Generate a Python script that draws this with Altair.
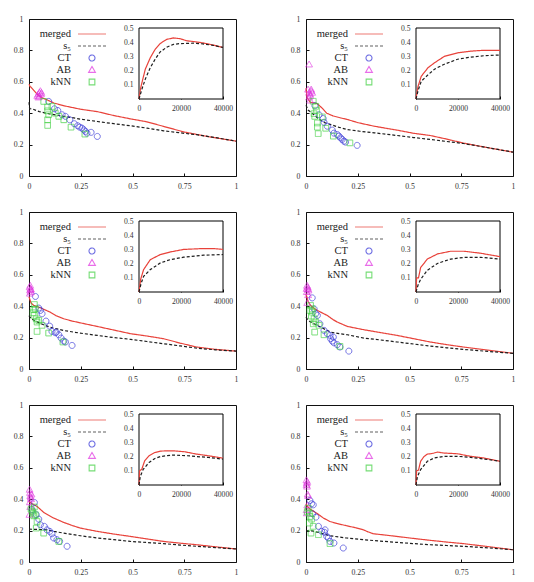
import altair as alt
import pandas as pd

# ---- series styling -------------------------------------------------------
SERIES = ["merged", "s₅", "CT", "AB", "kNN"]
SERIES_COLORS = ["#e8423a", "#1e1e1e", "#3434d8", "#e030e0", "#3ccf3c"]
SERIES_DASH = [[1, 0], [3, 2], [1, 0], [1, 0], [1, 0]]
# glyphs in symbol units; Vega scales them by sqrt(size) / 2 (= 5 px for size 100)
LINE_GLYPH = "M-2.8,0L2.8,0"
CIRCLE_GLYPH = "M0.6,0A0.6,0.6,0,1,1,-0.6,0A0.6,0.6,0,1,1,0.6,0Z"
TRIANGLE_GLYPH = "M0,-0.7L0.68,0.48L-0.68,0.48Z"
SQUARE_GLYPH = "M-0.57,-0.57L0.57,-0.57L0.57,0.57L-0.57,0.57Z"
SERIES_SHAPES = [LINE_GLYPH, LINE_GLYPH, CIRCLE_GLYPH, TRIANGLE_GLYPH, SQUARE_GLYPH]

X_TICKS = [0, 0.25, 0.5, 0.75, 1]
Y_TICKS = [0, 0.2, 0.4, 0.6, 0.8, 1]
INSET_X_DOMAIN = [0, 40000]
INSET_Y_DOMAIN = [0, 0.5]
INSET_X_TICKS = [0, 20000, 40000]
INSET_Y_TICKS = [0.1, 0.2, 0.3, 0.4, 0.5]

# ---- panel 1 --------------------------------------------------------------
merged_1 = [(0, 0.585), (0.005, 0.57), (0.01, 0.565), (0.02, 0.55), (0.04, 0.52), (0.06, 0.5),
            (0.087, 0.485), (0.12, 0.465), (0.17, 0.447), (0.25, 0.425), (0.33, 0.41), (0.41, 0.385),
            (0.49, 0.364), (0.57, 0.345), (0.65, 0.316), (0.75, 0.28), (0.87, 0.25), (1.0, 0.222)]
s5_1 = [(0, 0.47), (0.003, 0.43), (0.02, 0.425), (0.05, 0.41), (0.1, 0.395), (0.17, 0.38), (0.25, 0.362),
        (0.33, 0.347), (0.41, 0.333), (0.49, 0.32), (0.57, 0.305), (0.65, 0.288), (0.73, 0.275),
        (0.81, 0.263), (0.9, 0.245), (1.0, 0.222)]
ct_1 = [(0.095, 0.475), (0.123, 0.428), (0.139, 0.417), (0.16, 0.39), (0.176, 0.38), (0.197, 0.358),
        (0.219, 0.333), (0.235, 0.32), (0.245, 0.311), (0.256, 0.305), (0.265, 0.294), (0.273, 0.284),
        (0.28, 0.273), (0.3, 0.278), (0.33, 0.252)]
ab_1 = [(0.04, 0.51), (0.045, 0.52), (0.05, 0.53), (0.055, 0.54), (0.06, 0.53), (0.058, 0.52),
        (0.05, 0.505), (0.045, 0.5)]
knn_1 = [(0.071, 0.475), (0.09, 0.44), (0.09, 0.415), (0.095, 0.39), (0.09, 0.358), (0.09, 0.322),
         (0.111, 0.443), (0.127, 0.4), (0.144, 0.38), (0.168, 0.358), (0.203, 0.311), (0.27, 0.267)]
inset_merged_1 = [(0, 0), (700, 0.07), (1400, 0.115), (3000, 0.21), (5350, 0.29), (7700, 0.35),
                  (10000, 0.39), (13200, 0.42), (16400, 0.43), (19500, 0.425), (22700, 0.41),
                  (25800, 0.405), (30500, 0.395), (35300, 0.38), (40000, 0.363)]
inset_s5_1 = [(0, 0), (1400, 0.07), (3000, 0.14), (5350, 0.22), (7700, 0.28), (10000, 0.33),
              (13200, 0.365), (16400, 0.385), (19500, 0.39), (25800, 0.393), (30500, 0.388),
              (35300, 0.378), (40000, 0.363)]

# ---- panel 2 --------------------------------------------------------------
merged_2 = [(0, 0.56), (0.005, 0.5), (0.02, 0.47), (0.04, 0.465), (0.055, 0.46), (0.08, 0.43),
            (0.1, 0.4), (0.13, 0.383), (0.167, 0.37), (0.2, 0.36), (0.25, 0.34), (0.33, 0.317),
            (0.44, 0.292), (0.52, 0.272), (0.6, 0.258), (0.68, 0.235), (0.76, 0.21), (0.88, 0.18),
            (1.0, 0.152)]
s5_2 = [(0, 0.45), (0.01, 0.42), (0.03, 0.4), (0.06, 0.365), (0.09, 0.34), (0.12, 0.327), (0.16, 0.31),
        (0.2, 0.296), (0.26, 0.285), (0.33, 0.275), (0.44, 0.258), (0.52, 0.245), (0.6, 0.233),
        (0.68, 0.22), (0.76, 0.207), (0.88, 0.18), (1.0, 0.152)]
ct_2 = [(0.043, 0.448), (0.063, 0.39), (0.083, 0.366), (0.087, 0.342), (0.103, 0.317), (0.127, 0.292),
        (0.135, 0.273), (0.151, 0.264), (0.159, 0.254), (0.167, 0.243), (0.175, 0.233), (0.183, 0.222),
        (0.191, 0.216), (0.247, 0.195)]
ab_2 = [(0.015, 0.71), (0.01, 0.55), (0.015, 0.53), (0.02, 0.52), (0.025, 0.54), (0.025, 0.55),
        (0.02, 0.51), (0.03, 0.53), (0.015, 0.5), (0.02, 0.48)]
knn_2 = [(0.035, 0.476), (0.047, 0.444), (0.051, 0.419), (0.039, 0.397), (0.042, 0.38), (0.055, 0.338),
         (0.055, 0.311), (0.059, 0.27), (0.079, 0.376), (0.095, 0.304), (0.132, 0.254), (0.212, 0.211)]
inset_merged_2 = [(0, 0), (500, 0.05), (1000, 0.09), (2500, 0.16), (5700, 0.22), (8800, 0.255),
                  (13500, 0.3), (19800, 0.325), (26100, 0.337), (32400, 0.343), (40000, 0.343)]
inset_s5_2 = [(0, 0), (1000, 0.06), (2500, 0.125), (5700, 0.17), (8800, 0.21), (13500, 0.245),
              (19800, 0.28), (26100, 0.295), (32400, 0.305), (40000, 0.31)]

# ---- panel 3 --------------------------------------------------------------
merged_3 = [(0, 0.46), (0.01, 0.42), (0.023, 0.405), (0.055, 0.39), (0.08, 0.375), (0.103, 0.362),
            (0.13, 0.34), (0.168, 0.32), (0.21, 0.305), (0.248, 0.294), (0.33, 0.271), (0.41, 0.248),
            (0.49, 0.225), (0.57, 0.21), (0.65, 0.193), (0.73, 0.165), (0.81, 0.14), (0.9, 0.125),
            (1.0, 0.114)]
s5_3 = [(0, 0.34), (0.01, 0.32), (0.04, 0.3), (0.07, 0.282), (0.1, 0.267), (0.168, 0.245), (0.25, 0.228),
        (0.33, 0.214), (0.41, 0.2), (0.49, 0.189), (0.57, 0.175), (0.65, 0.161), (0.73, 0.147),
        (0.81, 0.133), (0.9, 0.122), (1.0, 0.114)]
ct_3 = [(0.031, 0.462), (0.047, 0.388), (0.055, 0.373), (0.063, 0.352), (0.082, 0.305), (0.1, 0.273),
        (0.111, 0.239), (0.127, 0.231), (0.132, 0.235), (0.144, 0.218), (0.155, 0.197), (0.168, 0.178),
        (0.176, 0.172), (0.208, 0.15)]
ab_3 = [(0.003, 0.52), (0.005, 0.5), (0.008, 0.51), (0.01, 0.49), (0.006, 0.53), (0.004, 0.48),
        (0.009, 0.505)]
knn_3 = [(0.026, 0.411), (0.023, 0.379), (0.019, 0.358), (0.026, 0.341), (0.035, 0.32), (0.039, 0.299),
         (0.047, 0.309), (0.039, 0.239), (0.063, 0.278), (0.095, 0.229), (0.164, 0.172), (0.031, 0.383)]
inset_merged_3 = [(0, 0), (800, 0.09), (2200, 0.158), (5400, 0.228), (10200, 0.264), (14900, 0.282),
                  (21300, 0.3), (30800, 0.306), (36000, 0.305), (40000, 0.3)]
inset_s5_3 = [(0, 0), (1000, 0.06), (2200, 0.11), (5400, 0.158), (10200, 0.205), (14900, 0.228),
              (21300, 0.245), (30800, 0.259), (40000, 0.264)]

# ---- panel 4 --------------------------------------------------------------
merged_4 = [(0, 0.48), (0.01, 0.43), (0.022, 0.405), (0.04, 0.385), (0.055, 0.373), (0.08, 0.356),
            (0.103, 0.341), (0.13, 0.315), (0.151, 0.299), (0.2, 0.271), (0.28, 0.25), (0.36, 0.232),
            (0.44, 0.214), (0.52, 0.193), (0.6, 0.172), (0.68, 0.155), (0.76, 0.14), (0.88, 0.12),
            (1.0, 0.1)]
s5_4 = [(0, 0.33), (0.01, 0.31), (0.022, 0.3), (0.07, 0.267), (0.119, 0.235), (0.16, 0.225), (0.2, 0.218),
        (0.28, 0.197), (0.36, 0.185), (0.44, 0.172), (0.52, 0.159), (0.6, 0.146), (0.68, 0.135),
        (0.76, 0.125), (0.88, 0.112), (1.0, 0.1)]
ct_4 = [(0.03, 0.453), (0.039, 0.383), (0.047, 0.352), (0.055, 0.341), (0.067, 0.288), (0.087, 0.246),
        (0.103, 0.225), (0.116, 0.214), (0.119, 0.193), (0.127, 0.178), (0.132, 0.203), (0.135, 0.167),
        (0.151, 0.155), (0.164, 0.14), (0.207, 0.114)]
ab_4 = [(0.005, 0.53), (0.008, 0.52), (0.01, 0.51), (0.012, 0.5), (0.004, 0.49), (0.006, 0.42),
        (0.01, 0.47), (0.003, 0.51)]
knn_4 = [(0.022, 0.405), (0.019, 0.373), (0.03, 0.362), (0.026, 0.337), (0.039, 0.32), (0.047, 0.299),
         (0.035, 0.288), (0.042, 0.235), (0.063, 0.278), (0.087, 0.218), (0.164, 0.144), (0.03, 0.383)]
inset_merged_4 = [(0, 0), (300, 0.1), (1200, 0.1), (2200, 0.172), (5400, 0.232), (10200, 0.268),
                  (16500, 0.287), (22900, 0.287), (30800, 0.273), (40000, 0.249)]
inset_s5_4 = [(0, 0), (1000, 0.05), (2200, 0.089), (5400, 0.153), (10200, 0.201), (16500, 0.232),
              (22900, 0.244), (30800, 0.244), (40000, 0.232)]

# ---- panel 5 --------------------------------------------------------------
merged_5 = [(0, 0.385), (0.01, 0.375), (0.039, 0.354), (0.055, 0.335), (0.071, 0.316), (0.095, 0.298),
            (0.119, 0.28), (0.168, 0.252), (0.21, 0.232), (0.248, 0.216), (0.33, 0.195), (0.41, 0.178),
            (0.49, 0.163), (0.57, 0.147), (0.65, 0.131), (0.73, 0.12), (0.81, 0.11), (0.9, 0.097),
            (1.0, 0.083)]
s5_5 = [(0, 0.21), (0.02, 0.208), (0.087, 0.205), (0.12, 0.195), (0.168, 0.184), (0.248, 0.167),
        (0.33, 0.153), (0.41, 0.142), (0.49, 0.131), (0.57, 0.124), (0.65, 0.117), (0.73, 0.108),
        (0.81, 0.1), (0.9, 0.092), (1.0, 0.083)]
ct_5 = [(0.026, 0.379), (0.035, 0.301), (0.055, 0.237), (0.074, 0.227), (0.087, 0.205), (0.1, 0.195),
        (0.111, 0.18), (0.119, 0.153), (0.135, 0.142), (0.148, 0.131), (0.184, 0.1), (0.047, 0.273),
        (0.015, 0.333)]
ab_5 = [(0.003, 0.46), (0.005, 0.44), (0.006, 0.42), (0.008, 0.41), (0.004, 0.38), (0.01, 0.4),
        (0.002, 0.3), (0.006, 0.35), (0.012, 0.43)]
knn_5 = [(0.015, 0.322), (0.019, 0.311), (0.023, 0.294), (0.031, 0.301), (0.039, 0.258), (0.035, 0.216),
         (0.071, 0.184), (0.144, 0.131), (0.01, 0.337), (0.026, 0.35)]
inset_merged_5 = [(0, 0), (300, 0.1), (1300, 0.11), (2700, 0.17), (4800, 0.206), (7600, 0.229),
                  (10400, 0.239), (16000, 0.241), (21700, 0.234), (27300, 0.218), (33000, 0.206),
                  (40000, 0.189)]
inset_s5_5 = [(0, 0), (600, 0.06), (2000, 0.11), (4800, 0.159), (7600, 0.187), (10400, 0.201),
              (16000, 0.211), (23000, 0.206), (33000, 0.194), (40000, 0.182)]

# ---- panel 6 --------------------------------------------------------------
merged_6 = [(0, 0.37), (0.01, 0.35), (0.019, 0.337), (0.052, 0.311), (0.084, 0.28), (0.116, 0.258),
            (0.15, 0.245), (0.196, 0.231), (0.24, 0.218), (0.277, 0.205), (0.3, 0.192), (0.325, 0.18),
            (0.38, 0.172), (0.438, 0.163), (0.52, 0.15), (0.6, 0.138), (0.68, 0.127), (0.76, 0.117),
            (0.88, 0.098), (1.0, 0.078)]
s5_6 = [(0, 0.2), (0.03, 0.198), (0.07, 0.185), (0.116, 0.167), (0.196, 0.153), (0.277, 0.142),
        (0.36, 0.133), (0.438, 0.125), (0.52, 0.117), (0.6, 0.11), (0.68, 0.105), (0.76, 0.1),
        (0.88, 0.09), (1.0, 0.078)]
ct_6 = [(0.019, 0.392), (0.027, 0.371), (0.035, 0.364), (0.032, 0.307), (0.048, 0.286), (0.06, 0.227),
        (0.076, 0.195), (0.089, 0.189), (0.092, 0.205), (0.1, 0.163), (0.108, 0.153), (0.116, 0.131),
        (0.135, 0.121), (0.18, 0.089)]
ab_6 = [(0.002, 0.52), (0.004, 0.5), (0.003, 0.49), (0.006, 0.51), (0.005, 0.48), (0.008, 0.43),
        (0.01, 0.42), (0.003, 0.33), (0.006, 0.36), (0.004, 0.31)]
knn_6 = [(0.011, 0.343), (0.016, 0.311), (0.019, 0.29), (0.016, 0.248), (0.027, 0.273), (0.035, 0.227),
         (0.024, 0.184), (0.06, 0.174), (0.116, 0.117), (0.006, 0.32)]
inset_merged_6 = [(0, 0), (300, 0.1), (1200, 0.105), (2200, 0.167), (3800, 0.2), (5400, 0.218),
                  (7000, 0.22), (8500, 0.225), (10200, 0.232), (13300, 0.225), (19700, 0.22),
                  (26000, 0.202), (32400, 0.19), (40000, 0.167)]
inset_s5_6 = [(0, 0), (700, 0.06), (2200, 0.108), (5400, 0.167), (8600, 0.19), (13300, 0.202),
              (19700, 0.202), (26000, 0.195), (32400, 0.183), (40000, 0.167)]

PANELS = [
    (merged_1, s5_1, ct_1, ab_1, knn_1, inset_merged_1, inset_s5_1),
    (merged_2, s5_2, ct_2, ab_2, knn_2, inset_merged_2, inset_s5_2),
    (merged_3, s5_3, ct_3, ab_3, knn_3, inset_merged_3, inset_s5_3),
    (merged_4, s5_4, ct_4, ab_4, knn_4, inset_merged_4, inset_s5_4),
    (merged_5, s5_5, ct_5, ab_5, knn_5, inset_merged_5, inset_s5_5),
    (merged_6, s5_6, ct_6, ab_6, knn_6, inset_merged_6, inset_s5_6),
]

# ---- layout (pixels) ------------------------------------------------------
W, H = 207, 157
INSET_LEFT, INSET_RIGHT = 110, 194
INSET_TOP, INSET_BOTTOM = 9, 80
TICK_LEN = 3
SERIF = "Liberation Serif"


def frame(points, series):
    return pd.DataFrame({"x": [p[0] for p in points],
                         "y": [p[1] for p in points],
                         "series": series})


def inward_ticks(values, orient, offset):
    # tick-only axis turned to face into the plot area
    return alt.Axis(values=values, orient=orient, offset=offset, title=None, labels=False,
                    domain=False, ticks=True, tickSize=TICK_LEN, tickColor="#111",
                    tickWidth=1)


def panel(merged, s5, ct, ab, knn, in_merged, in_s5):
    curves = pd.concat([frame(merged, "merged"), frame(s5, "s₅")])
    marks = pd.concat([frame(ct, "CT"), frame(ab, "AB"), frame(knn, "kNN")])
    inset = pd.concat([frame(in_merged, "merged"), frame(in_s5, "s₅")])
    box = pd.DataFrame({"x0": [INSET_X_DOMAIN[0]], "x1": [INSET_X_DOMAIN[1]],
                        "y0": [INSET_Y_DOMAIN[0]], "y1": [INSET_Y_DOMAIN[1]]})

    # labels sit to the left of their sample glyphs
    key = alt.Legend(title=None, orient="none", legendX=57, legendY=9,
                     labelAlign="right", labelOffset={"expr": "-27"}, padding=0, rowPadding=0,
                     labelFont=SERIF, labelFontSize=10.5, labelColor="#222",
                     symbolSize=100, symbolStrokeWidth=1.1)
    color = alt.Color("series:N", scale=alt.Scale(domain=SERIES, range=SERIES_COLORS), legend=key)
    shape = alt.Shape("series:N", scale=alt.Scale(domain=SERIES, range=SERIES_SHAPES), legend=key)
    dash = alt.StrokeDash("series:N", scale=alt.Scale(domain=SERIES, range=SERIES_DASH), legend=key)

    x_scale = alt.Scale(domain=[0, 1], nice=False)
    y_scale = alt.Scale(domain=[0, 1], nice=False)
    x_main = alt.X("x:Q", scale=x_scale,
                   axis=alt.Axis(values=X_TICKS, format=".2~f", title=None, labelPadding=6))
    y_main = alt.Y("y:Q", scale=y_scale,
                   axis=alt.Axis(values=Y_TICKS, format=".1~f", title=None, labelPadding=6))
    x_main_ticks = alt.X("x:Q", scale=x_scale, axis=inward_ticks(X_TICKS, "top", -H))
    y_main_ticks = alt.Y("y:Q", scale=y_scale, axis=inward_ticks(Y_TICKS, "right", -W))

    lines = alt.Chart(curves).mark_line(strokeWidth=1.2).encode(
        x=x_main, y=y_main, color=color, strokeDash=dash)
    points = alt.Chart(marks).mark_point(filled=False, size=100, strokeWidth=1).encode(
        x=x_main_ticks, y=y_main_ticks, color=color, shape=shape, strokeDash=dash)
    main = alt.layer(lines, points).resolve_axis(x="independent", y="independent")

    x_in_scale = alt.Scale(domain=INSET_X_DOMAIN, range=[INSET_LEFT, INSET_RIGHT], nice=False)
    y_in_scale = alt.Scale(domain=INSET_Y_DOMAIN, range=[INSET_BOTTOM, INSET_TOP], nice=False)
    x_in_axis = alt.Axis(values=INSET_X_TICKS, format="d", title=None, orient="bottom",
                         offset=-(H - INSET_BOTTOM), labelPadding=5, labelFontSize=7.6,
                         labelOverlap=False)
    y_in_axis = alt.Axis(values=INSET_Y_TICKS, format=".1f", title=None, orient="left",
                         offset=-INSET_LEFT, labelPadding=6, labelFontSize=7.6,
                         labelOverlap=False)

    frame_rect = alt.Chart(box).mark_rect(fill="white", stroke="black", strokeWidth=1).encode(
        x=alt.X("x0:Q", scale=x_in_scale, axis=x_in_axis), x2="x1",
        y=alt.Y("y0:Q", scale=y_in_scale, axis=y_in_axis), y2="y1")
    in_lines = alt.Chart(inset).mark_line(strokeWidth=1.2).encode(
        x=alt.X("x:Q", scale=x_in_scale,
                axis=inward_ticks(INSET_X_TICKS, "top", -INSET_BOTTOM)),
        y=alt.Y("y:Q", scale=y_in_scale,
                axis=inward_ticks(INSET_Y_TICKS, "right", -(W - INSET_LEFT))),
        color=color, strokeDash=dash)
    inset_layer = alt.layer(frame_rect, in_lines).resolve_axis(x="independent", y="independent")

    return (alt.layer(main, inset_layer)
            .resolve_scale(x="independent", y="independent")
            .properties(width=W, height=H))


chart = alt.concat(
    *[panel(*p) for p in PANELS],
    columns=2,
    spacing=alt.RowColnumber(row=36, column=70),
    bounds="flush",
).resolve_scale(
    x="independent", y="independent", color="independent",
    shape="independent", strokeDash="independent",
).resolve_legend(
    color="independent", shape="independent", strokeDash="independent",
).properties(
    padding={"left": 12, "top": 14, "right": 5, "bottom": 5},
    background="white",
).configure_view(
    stroke="#111", strokeWidth=1,
).configure_axis(
    labelFont=SERIF, labelFontSize=7.8, labelColor="#333", grid=False, ticks=False,
    domain=False, labelFlush=False,
)

chart.save("out.html", embed_options={"renderer": "svg", "actions": False})
